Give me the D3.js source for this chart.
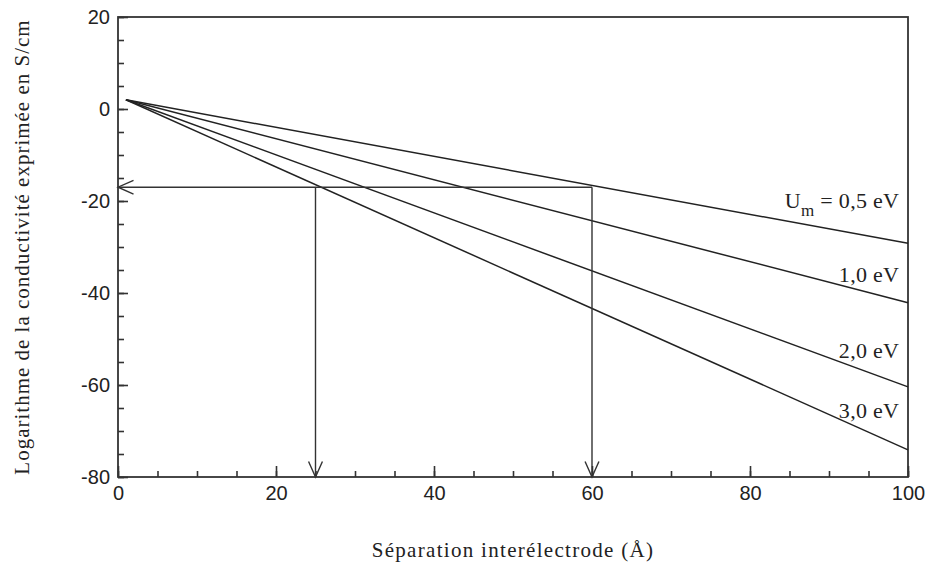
<!DOCTYPE html>
<html>
<head>
<meta charset="utf-8">
<script src="https://cdn.jsdelivr.net/npm/d3@7"></script>
<style>
  body { margin: 0; background: #fff; }
  text { fill: #222; }
</style>
</head>
<body>
<script>
const width = 929;
const height = 565;
const margin = {top: 17, right: 21, bottom: 88, left: 118};
const innerWidth = width - margin.left - margin.right;
const innerHeight = height - margin.top - margin.bottom;

// data
const seriesLabels = ['0,5 eV', '1,0 eV', '2,0 eV', '3,0 eV'];
const xStart = [1, 1, 1, 1];
const yStart = [2, 2, 2, 2];
const xEnd = [100, 100, 100, 100];
const yEnd = [-29.2, -42.1, -60.4, -74.1];
const xTicks = [0, 20, 40, 60, 80, 100];
const yTicks = [-80, -60, -40, -20, 0, 20];
const arrowY = -17;
const arrowX = [25, 60];

const serif = 'Liberation Serif, Times New Roman, serif';
const sans = 'Liberation Sans, Arial, sans-serif';

const svg = d3.select('body').append('svg').attr('width', width).attr('height', height);
const grp = svg.append('g').attr('transform', `translate(${margin.left}, ${margin.top})`);

const xScale = d3.scaleLinear().domain([0, 100]).range([0, innerWidth]);
const yScale = d3.scaleLinear().domain([-80, 20]).range([innerHeight, 0]);

// frame
grp.append('rect').attr('width', innerWidth).attr('height', innerHeight)
    .attr('fill', 'none').attr('stroke', '#333').attr('stroke-width', 1.8);

// minor ticks (no labels)
grp.append('g').attr('transform', `translate(0, ${innerHeight})`)
    .call(d3.axisBottom(xScale).tickValues(d3.range(0, 101, 5)).tickSize(-6))
    .call(g => { g.select('.domain').remove(); g.selectAll('text').remove(); });
grp.append('g')
    .call(d3.axisLeft(yScale).tickValues(d3.range(-80, 21, 5)).tickSize(-6))
    .call(g => { g.select('.domain').remove(); g.selectAll('text').remove(); });

// major ticks + labels
const xAxis = grp.append('g').attr('transform', `translate(0, ${innerHeight})`)
    .call(d3.axisBottom(xScale).tickValues(xTicks).tickSize(-11).tickPadding(9));
const yAxis = grp.append('g')
    .call(d3.axisLeft(yScale).tickValues(yTicks).tickSize(-10).tickPadding(8)
        .tickFormat(d => d < 0 ? '-' + Math.abs(d) : d));
[xAxis, yAxis].forEach(a => {
    a.select('.domain').remove();
    a.selectAll('text').attr('font-family', sans).attr('font-size', 20).attr('fill', '#222');
});
grp.selectAll('.tick line').attr('stroke', '#333').attr('stroke-width', 1.6);

// series lines
seriesLabels.forEach((s, i) => {
    grp.append('line')
        .attr('x1', xScale(xStart[i])).attr('y1', yScale(yStart[i]))
        .attr('x2', xScale(xEnd[i])).attr('y2', yScale(yEnd[i]))
        .attr('stroke', '#222').attr('stroke-width', 1.5);
});

// series labels
const labelY = [-21.5, -37.6, -54.1, -67.2];
const labelX = 98.9;
seriesLabels.forEach((s, i) => {
    const t = grp.append('text')
        .attr('x', xScale(labelX)).attr('y', yScale(labelY[i]))
        .attr('text-anchor', 'end')
        .attr('font-family', serif)
        .attr('font-size', 22)
        .attr('letter-spacing', 0.3);
    if (i === 0) {
        t.append('tspan').text('U');
        t.append('tspan').attr('dy', 8).attr('font-size', 17).text('m');
        t.append('tspan').attr('dy', -8).text(' = ' + s);
    } else {
        t.text(s);
    }
});

// arrows
const arrow = (x1, y1, x2, y2) => {
    grp.append('line')
        .attr('x1', xScale(x1)).attr('y1', yScale(y1))
        .attr('x2', xScale(x2)).attr('y2', yScale(y2))
        .attr('stroke', '#333').attr('stroke-width', 1.4);
    const ang = Math.atan2(yScale(y2) - yScale(y1), xScale(x2) - xScale(x1));
    const px = xScale(x2), py = yScale(y2), len = 17, spread = 0.42;
    grp.append('path')
        .attr('d', `M${px - len * Math.cos(ang - spread)},${py - len * Math.sin(ang - spread)}L${px},${py}L${px - len * Math.cos(ang + spread)},${py - len * Math.sin(ang + spread)}`)
        .attr('fill', 'none').attr('stroke', '#333').attr('stroke-width', 1.4);
};
arrow(arrowX[1], arrowY, 0, arrowY);
arrowX.forEach(x => arrow(x, arrowY, x, -80));

// axis titles
svg.append('text')
    .attr('transform', `translate(29, ${margin.top + innerHeight / 2}) rotate(-90)`)
    .attr('text-anchor', 'middle')
    .attr('font-family', serif)
    .attr('font-size', 21)
    .attr('letter-spacing', 1)
    .text('Logarithme de la conductivité exprimée en S/cm');
svg.append('text')
    .attr('x', 513).attr('y', 557)
    .attr('text-anchor', 'middle')
    .attr('font-family', serif)
    .attr('font-size', 21)
    .attr('letter-spacing', 1.3)
    .text('Séparation interélectrode (Å)');
</script>
</body>
</html>
